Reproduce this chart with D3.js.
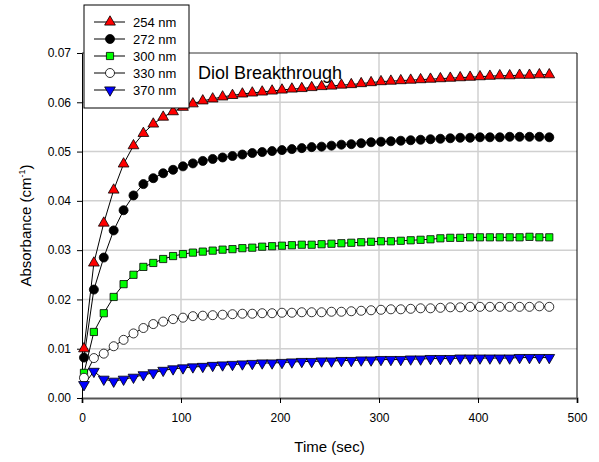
<!DOCTYPE html>
<html>
<head>
<meta charset="utf-8">
<script src="https://cdn.jsdelivr.net/npm/d3@7"></script>
<style>
  body { margin: 0; background: #fff; }
  svg { font-family: "Liberation Sans", Arial, sans-serif; }
  .grid line { stroke: #d0d0d0; stroke-width: 1.5; }
  .axis text { font-size: 12px; fill: #000; }
</style>
</head>
<body>
<svg id="chart" width="599" height="462"></svg>
<script>
// sampling times (sec)
var times = [2, 12, 22, 32, 42, 52, 62, 72, 82, 92, 102, 112, 122, 132, 142, 152,
  162, 172, 182, 192, 202, 212, 222, 232, 242, 252, 262, 272, 282, 292, 302, 312,
  322, 332, 342, 352, 362, 372, 382, 392, 402, 412, 422, 432, 442, 452, 462, 472];

var abs254 = [0.0100, 0.0274, 0.0355, 0.0422, 0.0475, 0.0512, 0.0537, 0.0556, 0.0570, 0.0581,
  0.0590, 0.0597, 0.0603, 0.0607, 0.0611, 0.0614, 0.0617, 0.0619, 0.0621, 0.0623,
  0.0625, 0.0627, 0.0628, 0.0630, 0.0632, 0.0633, 0.0635, 0.0636, 0.0638, 0.0640,
  0.0642, 0.0643, 0.0644, 0.0645, 0.0646, 0.0647, 0.0648, 0.0649, 0.0650, 0.0651,
  0.0652, 0.0653, 0.0654, 0.0654, 0.0655, 0.0655, 0.0656, 0.0656];
var abs272 = [0.0082, 0.0220, 0.0285, 0.0340, 0.0381, 0.0411, 0.0434, 0.0446, 0.0456, 0.0463,
  0.0470, 0.0476, 0.0481, 0.0485, 0.0488, 0.0491, 0.0494, 0.0497, 0.0499, 0.0501,
  0.0503, 0.0505, 0.0507, 0.0509, 0.0510, 0.0512, 0.0514, 0.0515, 0.0517, 0.0519,
  0.0520, 0.0521, 0.0522, 0.0523, 0.0524, 0.0525, 0.0526, 0.0527, 0.0528, 0.0528,
  0.0529, 0.0529, 0.0529, 0.0530, 0.0530, 0.0530, 0.0530, 0.0529];
var abs300 = [0.0051, 0.0134, 0.0172, 0.0205, 0.0231, 0.0250, 0.0266, 0.0274, 0.0282, 0.0288,
  0.0292, 0.0295, 0.0297, 0.0299, 0.0301, 0.0302, 0.0304, 0.0305, 0.0307, 0.0308,
  0.0309, 0.0310, 0.0311, 0.0311, 0.0312, 0.0313, 0.0314, 0.0315, 0.0316, 0.0317,
  0.0318, 0.0318, 0.0319, 0.0320, 0.0321, 0.0322, 0.0324, 0.0325, 0.0325, 0.0326,
  0.0326, 0.0326, 0.0326, 0.0326, 0.0326, 0.0327, 0.0326, 0.0326];
var abs330 = [0.0041, 0.0081, 0.0090, 0.0105, 0.0118, 0.0131, 0.0142, 0.0150, 0.0155, 0.0160,
  0.0163, 0.0166, 0.0167, 0.0168, 0.0169, 0.0170, 0.0171, 0.0171, 0.0172, 0.0172,
  0.0173, 0.0173, 0.0174, 0.0174, 0.0174, 0.0175, 0.0175, 0.0176, 0.0177, 0.0178,
  0.0179, 0.0180, 0.0180, 0.0181, 0.0182, 0.0182, 0.0183, 0.0184, 0.0184, 0.0185,
  0.0185, 0.0185, 0.0185, 0.0185, 0.0185, 0.0185, 0.0186, 0.0185];
var abs370 = [0.0027, 0.0054, 0.0038, 0.0034, 0.0038, 0.0042, 0.0047, 0.0051, 0.0056, 0.0059,
  0.0061, 0.0063, 0.0064, 0.0066, 0.0067, 0.0068, 0.0069, 0.0070, 0.0071, 0.0071,
  0.0072, 0.0073, 0.0074, 0.0074, 0.0075, 0.0075, 0.0076, 0.0076, 0.0077, 0.0077,
  0.0078, 0.0078, 0.0078, 0.0079, 0.0079, 0.0080, 0.0080, 0.0080, 0.0081, 0.0081,
  0.0081, 0.0081, 0.0081, 0.0081, 0.0082, 0.0082, 0.0082, 0.0082];

var seriesNames = ["254 nm", "272 nm", "300 nm", "330 nm", "370 nm"];
var xTicks = [0, 100, 200, 300, 400, 500];
var yTicks = [0, 0.01, 0.02, 0.03, 0.04, 0.05, 0.06, 0.07];

var series = [
  {name: seriesNames[0], values: abs254, shape: d3.symbolTriangle, fill: "#ff0000", size: 50, rot: 0},
  {name: seriesNames[1], values: abs272, shape: d3.symbolCircle, fill: "#000000", size: 64, rot: 0},
  {name: seriesNames[2], values: abs300, shape: d3.symbolSquare, fill: "#00ff00", size: 52, rot: 0},
  {name: seriesNames[3], values: abs330, shape: d3.symbolCircle, fill: "#ffffff", size: 64, rot: 0},
  {name: seriesNames[4], values: abs370, shape: d3.symbolTriangle, fill: "#0000ff", size: 50, rot: 180}
];

var svg = d3.select("#chart");
var plotLeft = 82, plotRight = 577, plotTop = 53, plotBottom = 398;

var x = d3.scaleLinear().domain([0, 500]).range([plotLeft, plotRight]);
var y = d3.scaleLinear().domain([0, 0.07]).range([plotBottom, plotTop]);

//grid lines
svg.append("g").attr("class", "grid")
  .selectAll("line").data(xTicks.slice(1, -1)).enter().append("line")
  .attr("x1", function(d){ return x(d); }).attr("x2", function(d){ return x(d); })
  .attr("y1", plotTop).attr("y2", plotBottom);
svg.append("g").attr("class", "grid")
  .selectAll("line").data(yTicks.slice(1, -1)).enter().append("line")
  .attr("x1", plotLeft).attr("x2", plotRight)
  .attr("y1", function(d){ return y(d); }).attr("y2", function(d){ return y(d); });

//frame top and right
svg.append("line").attr("x1", plotLeft).attr("x2", plotRight).attr("y1", plotTop).attr("y2", plotTop)
  .attr("stroke", "#333").attr("stroke-width", 1);
svg.append("line").attr("x1", plotRight).attr("x2", plotRight).attr("y1", plotTop).attr("y2", plotBottom)
  .attr("stroke", "#000").attr("stroke-width", 1);

//axes
var xAxis = svg.append("g").attr("class", "axis")
  .attr("transform", "translate(0," + plotBottom + ")")
  .call(d3.axisBottom(x).tickValues(xTicks).tickSize(5).tickPadding(10).tickFormat(d3.format("d")));
xAxis.select(".domain").attr("stroke", "#555").attr("stroke-width", 2);

var yAxis = svg.append("g").attr("class", "axis")
  .attr("transform", "translate(" + plotLeft + ",0)")
  .call(d3.axisLeft(y).tickValues(yTicks).tickSize(5).tickPadding(6).tickFormat(d3.format(".2f")));
yAxis.select(".domain").attr("stroke", "#000");
svg.selectAll(".axis text").attr("font-family", "Liberation Sans, Arial, sans-serif");

//series lines and markers
var line = d3.line()
  .x(function(d, i){ return x(times[i]); })
  .y(function(d){ return y(d); });

series.forEach(function(s){
  svg.append("path")
    .attr("d", line(s.values))
    .attr("fill", "none")
    .attr("stroke", "#000")
    .attr("stroke-width", 1);
});
series.forEach(function(s){
  var sym = d3.symbol().type(s.shape).size(s.size);
  svg.append("g").selectAll("path").data(s.values).enter().append("path")
    .attr("d", sym)
    .attr("transform", function(d, i){
      return "translate(" + x(times[i]) + "," + y(d) + ") rotate(" + s.rot + ")";
    })
    .attr("fill", s.fill)
    .attr("stroke", "#000")
    .attr("stroke-width", 0.8);
});

//title inside plot
svg.append("text")
  .attr("x", 198).attr("y", 79)
  .attr("font-size", "18px")
  .text("Diol Breakthrough");

//axis titles
svg.append("text")
  .attr("x", (plotLeft + plotRight) / 2).attr("y", 452)
  .attr("text-anchor", "middle")
  .attr("font-size", "15px")
  .text("Time (sec)");

var yl = svg.append("text")
  .attr("transform", "translate(31," + ((plotTop + plotBottom) / 2) + ") rotate(-90)")
  .attr("text-anchor", "middle")
  .attr("font-size", "15px");
yl.append("tspan").text("Absorbance (cm");
yl.append("tspan").attr("dy", -6).attr("font-size", "9px").text("-1");
yl.append("tspan").attr("dy", 6).text(")");

//legend
var legend = svg.append("g").attr("transform", "translate(84,5)");
legend.append("rect")
  .attr("x", 0).attr("y", 0).attr("width", 105).attr("height", 103)
  .attr("fill", "#fff").attr("stroke", "#000").attr("stroke-width", 1);
series.forEach(function(s, i){
  var ry = 17 + i * 17;
  legend.append("line")
    .attr("x1", 10).attr("x2", 41).attr("y1", ry).attr("y2", ry)
    .attr("stroke", "#000").attr("stroke-width", 1);
  legend.append("path")
    .attr("d", d3.symbol().type(s.shape).size(s.size))
    .attr("transform", "translate(26," + ry + ") rotate(" + s.rot + ")")
    .attr("fill", s.fill).attr("stroke", "#000").attr("stroke-width", 0.8);
  legend.append("text")
    .attr("x", 49).attr("y", ry + 4.5)
    .attr("font-size", "13px")
    .text(s.name);
});
</script>
</body>
</html>
